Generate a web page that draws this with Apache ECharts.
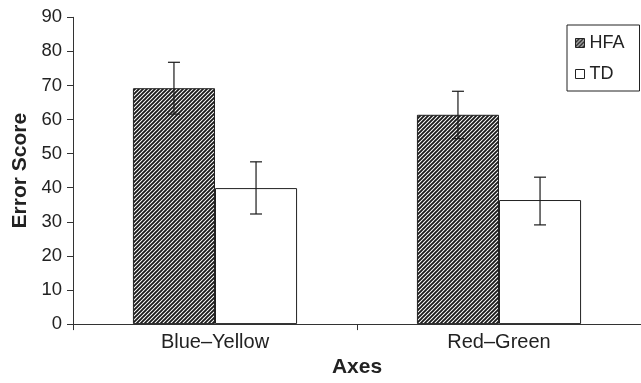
<!DOCTYPE html>
<html>
<head>
<meta charset="utf-8">
<script src="https://cdn.jsdelivr.net/npm/echarts@6/dist/echarts.min.js"></script>
<style>
html,body{margin:0;padding:0;background:#fff;}
#chart{width:641px;height:383px;}
</style>
</head>
<body>
<div id="chart"></div>
<script>
const categories = ['Blue\u2013Yellow', 'Red\u2013Green'];
const seriesNames = ['HFA', 'TD'];
const hfaValues = [69.2, 61.4];
const tdValues = [39.9, 36.4];
const hfaLow = [61.6, 54.4];
const hfaHigh = [76.8, 68.3];
const tdLow = [32.3, 29.1];
const tdHigh = [47.6, 43.1];
const yTicks = [0, 10, 20, 30, 40, 50, 60, 70, 80, 90];

const FONT = "'Liberation Sans', Arial, Helvetica, sans-serif";
const GAP = 0.422;

function makeHatch() {
  const c = document.createElement('canvas');
  c.width = 4; c.height = 4;
  const ctx = c.getContext('2d');
  ctx.fillStyle = '#fff';
  ctx.fillRect(0, 0, 4, 4);
  ctx.strokeStyle = '#1a1a1a';
  ctx.lineWidth = 1.9;
  ctx.beginPath();
  ctx.moveTo(-1, 5); ctx.lineTo(5, -1);
  ctx.moveTo(-3, 3); ctx.lineTo(3, -3);
  ctx.moveTo(1, 7); ctx.lineTo(7, 1);
  ctx.stroke();
  return c;
}
const hatch = { image: makeHatch(), repeat: 'repeat' };

function errData(low, high) {
  return categories.map((c, i) => [i, low[i], high[i]]);
}

function errRender(side) {
  return function (params, api) {
    const idx = api.value(0);
    const band = api.size([1, 0])[0];
    const barW = band * (1 - GAP) / 2;
    const top = api.coord([idx, api.value(2)]);
    const bot = api.coord([idx, api.value(1)]);
    const x = top[0] + side * barW / 2;
    const cap = 6;
    const st = { stroke: '#1a1a1a', lineWidth: 1.2 };
    return {
      type: 'group',
      children: [
        { type: 'line', shape: { x1: x, y1: top[1], x2: x, y2: bot[1] }, style: st },
        { type: 'line', shape: { x1: x - cap, y1: top[1], x2: x + cap, y2: top[1] }, style: st },
        { type: 'line', shape: { x1: x - cap, y1: bot[1], x2: x + cap, y2: bot[1] }, style: st }
      ]
    };
  };
}

const chart = echarts.init(document.getElementById('chart'), null, { renderer: 'canvas' });
chart.setOption({
  animation: false,
  backgroundColor: '#fff',
  textStyle: { fontFamily: FONT },
  grid: { left: 73, top: 17.3, width: 572, height: 318.4, containLabel: false },
  legend: {
    orient: 'vertical',
    left: 567,
    top: 25,
    padding: [9, 15, 8, 8],
    itemGap: 13,
    itemWidth: 9,
    itemHeight: 9,
    borderColor: '#222',
    borderWidth: 1,
    borderRadius: 0,
    backgroundColor: '#fff',
    data: [
      { name: 'HFA', icon: 'rect', itemStyle: { color: hatch, borderColor: '#222', borderWidth: 1 } },
      { name: 'TD', icon: 'rect', itemStyle: { color: '#fff', borderColor: '#222', borderWidth: 1 } }
    ],
    textStyle: { fontFamily: FONT, fontSize: 18, color: '#222', lineHeight: 17, padding: [0, 0, 0, 0] }
  },
  xAxis: {
    type: 'category',
    data: categories,
    name: 'Axes',
    nameLocation: 'middle',
    nameGap: 21,
    nameTextStyle: { fontFamily: FONT, fontSize: 21, fontWeight: 'bold', color: '#222', verticalAlign: 'top' },
    axisLine: { lineStyle: { color: '#333', width: 1 } },
    axisTick: { show: true, length: 6, lineStyle: { color: '#333' } },
    axisLabel: { fontFamily: FONT, fontSize: 20, color: '#222', margin: 8 },
    splitLine: { show: false }
  },
  yAxis: {
    type: 'value',
    min: 0, max: 90, interval: 10,
    name: 'Error Score',
    nameLocation: 'middle',
    nameGap: 42,
    nameRotate: 90,
    nameTextStyle: { fontFamily: FONT, fontSize: 21, fontWeight: 'bold', color: '#222' },
    axisLine: { show: true, lineStyle: { color: '#333', width: 1 } },
    axisTick: { show: true, length: 6, lineStyle: { color: '#333' } },
    axisLabel: {
      fontFamily: FONT, fontSize: 18.5, color: '#222', margin: 11,
      formatter: v => (yTicks.indexOf(v) >= 0 ? String(v) : '')
    },
    splitLine: { show: false }
  },
  series: [
    {
      name: seriesNames[0], type: 'bar', data: hfaValues,
      barGap: '0%', barCategoryGap: (GAP * 100) + '%',
      itemStyle: { color: hatch, borderColor: '#222', borderWidth: 1 }
    },
    {
      name: seriesNames[1], type: 'bar', data: tdValues,
      barGap: '0%', barCategoryGap: (GAP * 100) + '%',
      itemStyle: { color: '#fff', borderColor: '#222', borderWidth: 1 }
    },
    {
      name: 'HFA_err', type: 'custom', data: errData(hfaLow, hfaHigh),
      encode: { x: 0, y: [1, 2] }, renderItem: errRender(-1), z: 5, silent: true
    },
    {
      name: 'TD_err', type: 'custom', data: errData(tdLow, tdHigh),
      encode: { x: 0, y: [1, 2] }, renderItem: errRender(1), z: 5, silent: true
    }
  ]
});
</script>
</body>
</html>
